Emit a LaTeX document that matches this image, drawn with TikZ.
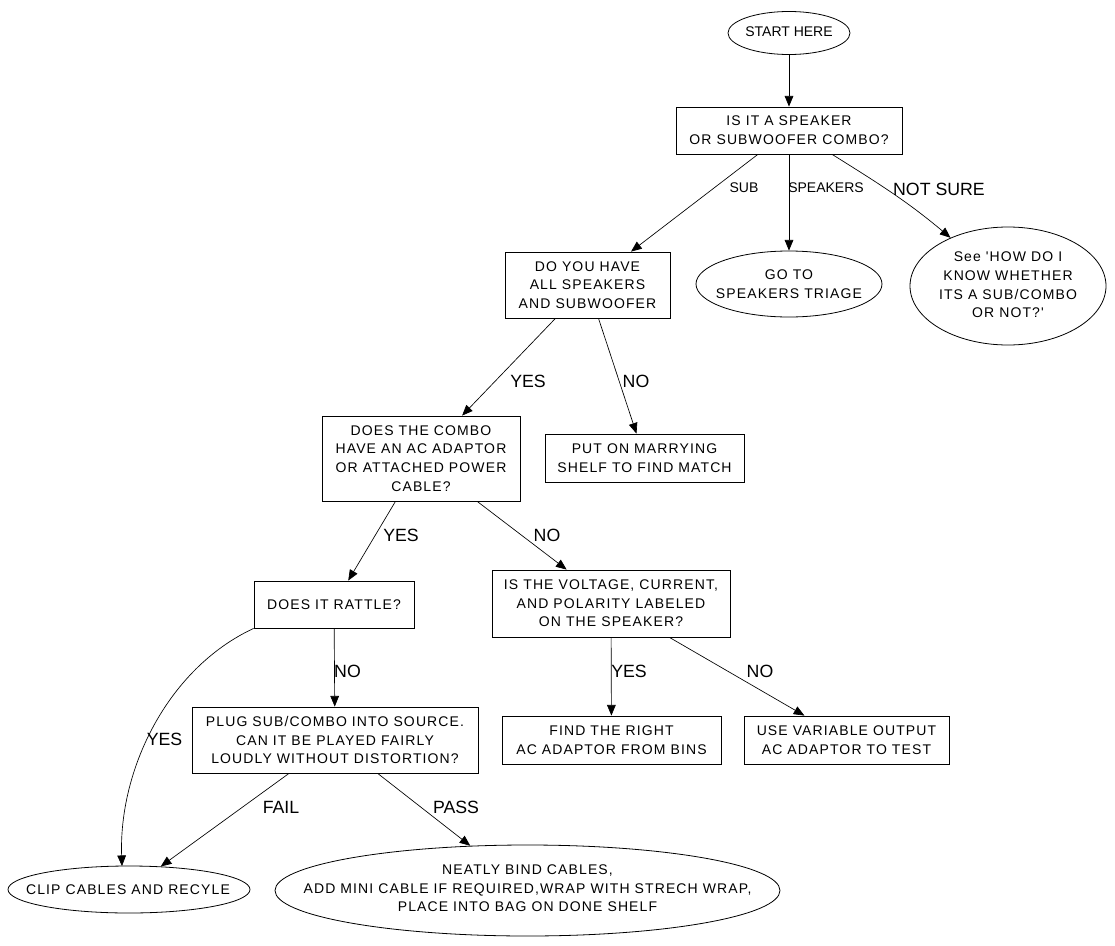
\documentclass[tikz,border=0pt]{standalone}
\usepackage{fontspec}
\setmainfont{Liberation Sans}
\newfontfamily\nodefont[LetterSpace=8]{Liberation Sans}
\usetikzlibrary{arrows.meta,shapes.geometric,calc}
\tikzset{
  box/.style={draw,rectangle,line width=0.6pt,align=center,inner sep=2pt,
    font=\nodefont\fontsize{10.5}{14}\selectfont},
  oval/.style={draw,ellipse,line width=0.6pt,inner sep=0pt},
  otext/.style={align=center,inner sep=0pt,font=\nodefont\fontsize{10.5}{14}\selectfont},
  small/.style={inner sep=0pt,font=\fontsize{10.5}{14}\selectfont},
  big/.style={inner sep=0pt,font=\fontsize{13.3}{16}\selectfont},
  edge/.style={line width=0.5pt,-{Triangle[length=8pt,width=6.5pt]}}
}
\begin{document}
\begin{tikzpicture}[x=0.75pt,y=-0.75pt]
\useasboundingbox (0,0) rectangle (1115,946);
% ellipses
\node[oval,minimum width=91.5pt,minimum height=32.25pt] (start) at (789,33) {};
\node[small,align=center] (startT) at (789,32) {START HERE};
\node[oval,minimum width=139.5pt,minimum height=49.5pt] (triage) at (789,284) {};
\node[otext] (triageT) at (789,284.5) {GO TO\\SPEAKERS TRIAGE};
\node[oval,minimum width=147pt,minimum height=88.5pt] (see) at (1008,286) {};
\node[otext] (seeT) at (1008,285) {See 'HOW DO I\\KNOW WHETHER\\ITS A SUB/COMBO\\OR NOT?'};
\node[oval,minimum width=181.5pt,minimum height=35.25pt] (clip) at (129,889.5) {};
\node[otext] (clipT) at (128,890) {CLIP CABLES AND RECYLE};
\node[oval,minimum width=378.75pt,minimum height=68.25pt] (neat) at (527.5,890.5) {};
\node[otext] (neatT) at (527.5,888.5) {NEATLY BIND CABLES,\\ADD MINI CABLE IF REQUIRED,WRAP WITH STRECH WRAP,\\PLACE INTO BAG ON DONE SHELF};
% boxes
\node[box,minimum width=169.5pt,minimum height=35.25pt] (q1) at (789,130.5) {IS IT A SPEAKER\\OR SUBWOOFER COMBO?};
\node[box,minimum width=123.75pt,minimum height=49.5pt] (have) at (587.5,285) {DO YOU HAVE\\ALL SPEAKERS\\AND SUBWOOFER};
\node[box,minimum width=148.5pt,minimum height=63.75pt] (combo) at (421,458.5) {DOES THE COMBO\\HAVE AN AC ADAPTOR\\OR ATTACHED POWER\\CABLE?};
\node[box,minimum width=149.25pt,minimum height=36pt] (marry) at (644.5,458) {PUT ON MARRYING\\SHELF TO FIND MATCH};
\node[box,minimum width=120pt,minimum height=35.25pt] (rattle) at (334,604.5) {DOES IT RATTLE?};
\node[box,minimum width=178.5pt,minimum height=50.25pt] (volt) at (611,603.5) {IS THE VOLTAGE, CURRENT,\\AND POLARITY LABELED\\ON THE SPEAKER?};
\node[box,minimum width=214.5pt,minimum height=49.5pt] (plug) at (335,740) {PLUG SUB/COMBO INTO SOURCE.\\CAN IT BE PLAYED FAIRLY\\LOUDLY WITHOUT DISTORTION?};
\node[box,minimum width=164.25pt,minimum height=36pt] (find) at (611.5,740) {FIND THE RIGHT\\AC ADAPTOR FROM BINS};
\node[box,minimum width=153.75pt,minimum height=36pt] (use) at (846.5,740) {USE VARIABLE OUTPUT\\AC ADAPTOR TO TEST};
% connectors
\draw[edge] (start) -- (q1);
\draw[edge] (q1) -- (have);
\draw[edge] (q1) -- (triage);
\draw[edge] (q1.-29) to[out=-32,in=140] (see);
\draw[edge] (have) -- (combo);
\draw[edge] (have) -- (marry);
\draw[edge] (combo) -- (rattle);
\draw[edge] (combo) -- (volt);
\draw[edge] (rattle) -- (plug);
\coordinate (clipIn) at ($(clip.north)+(-7,0.5)$);
\draw[edge] (rattle.south west) to[out=205,in=92,looseness=0.9] (clipIn);
\draw[edge] (plug) -- (clip);
\draw[edge] (plug) -- (neat);
\draw[edge] (volt) -- (find);
\draw[edge] (volt) -- (use);
% labels
\node[small] (lSub) at (744,188) {SUB};
\node[small] (lSpk) at (826,188) {SPEAKERS};
\node[big] (lNS) at (939,189) {NOT SURE};
\node[big] (lY1) at (528,381) {YES};
\node[big] (lN1) at (636,381) {NO};
\node[big] (lY2) at (401,535) {YES};
\node[big] (lN2) at (547,535) {NO};
\node[big] (lN3) at (347.5,671.5) {NO};
\node[big] (lY3) at (164.5,739.5) {YES};
\node[big] (lF) at (281,807.5) {FAIL};
\node[big] (lP) at (456,807.5) {PASS};
\node[big] (lY4) at (629,671) {YES};
\node[big] (lN4) at (760,671) {NO};
\end{tikzpicture}
\end{document}
